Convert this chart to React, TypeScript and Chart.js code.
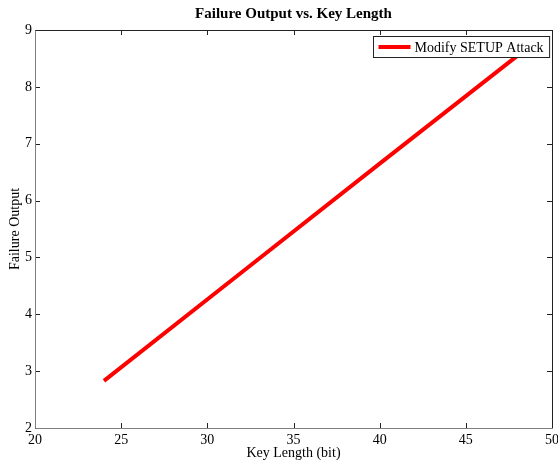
import React, { useEffect, useRef } from "react";
import { Chart, registerables } from "chart.js";

Chart.register(...registerables);

const keyLengths = [24, 32, 40, 48];
const failureOutput = [2.83, 4.74, 6.65, 8.55];
const seriesLabel = "Modify SETUP Attack";
const xTicks = [20, 25, 30, 35, 40, 45, 50];
const yTicks = [2, 3, 4, 5, 6, 7, 8, 9];
const titleText = "Failure Output vs. Key Length";
const xTitle = "Key Length (bit)";
const yTitle = "Failure Output";

const FONT = "'Liberation Serif', 'Times New Roman', serif";

const boxPlugin = {
  id: "matlabBox",
  afterDatasetsDraw(chart: any) {
    const { ctx, chartArea, scales } = chart;
    const { left, right, top, bottom } = chartArea;
    const xs = scales.x;
    const ys = scales.y;
    ctx.save();
    ctx.lineWidth = 1;
    ctx.strokeStyle = "#222";
    const tl = 5;
    ctx.beginPath();
    xTicks.forEach((v) => {
      const px = Math.round(xs.getPixelForValue(v)) + 0.5;
      ctx.moveTo(px, bottom);
      ctx.lineTo(px, bottom - tl);
      ctx.moveTo(px, top);
      ctx.lineTo(px, top + tl);
    });
    yTicks.forEach((v) => {
      const py = Math.round(ys.getPixelForValue(v)) + 0.5;
      ctx.moveTo(left, py);
      ctx.lineTo(left + tl, py);
      ctx.moveTo(right, py);
      ctx.lineTo(right - tl, py);
    });
    ctx.stroke();
    const L = Math.round(left) + 0.5;
    const R = Math.round(right) + 0.5;
    const T = Math.round(top) + 0.5;
    const B = Math.round(bottom) + 0.5;
    ctx.strokeStyle = "#222";
    ctx.beginPath();
    ctx.moveTo(L, T);
    ctx.lineTo(R, T);
    ctx.lineTo(R, B);
    ctx.stroke();
    ctx.strokeStyle = "#808080";
    ctx.beginPath();
    ctx.moveTo(L, T);
    ctx.lineTo(L, B);
    ctx.lineTo(R, B);
    ctx.stroke();

    // legend
    const ds = chart.data.datasets[0];
    ctx.font = `14px ${FONT}`;
    const tw = ctx.measureText(ds.label).width;
    const bw = 5 + 32 + 4 + tw + 6;
    const bh = 21;
    const bx = Math.round(right - 3 - bw) + 0.5;
    const by = Math.round(top + 6) + 0.5;
    ctx.fillStyle = "#fff";
    ctx.fillRect(bx, by, bw, bh);
    ctx.strokeStyle = "#222";
    ctx.lineWidth = 1;
    ctx.strokeRect(bx, by, bw, bh);
    ctx.strokeStyle = ds.borderColor;
    ctx.lineWidth = 4;
    ctx.beginPath();
    ctx.moveTo(bx + 5, by + bh / 2);
    ctx.lineTo(bx + 37, by + bh / 2);
    ctx.stroke();
    ctx.fillStyle = "#000";
    ctx.textBaseline = "middle";
    ctx.textAlign = "left";
    ctx.fillText(ds.label, bx + 41, by + bh / 2 + 1);
    ctx.restore();
  },
};

export default function App() {
  const ref = useRef<HTMLCanvasElement>(null);
  useEffect(() => {
    if (!ref.current) return;
    const chart = new Chart(ref.current, {
      type: "line",
      data: {
        labels: keyLengths,
        datasets: [
          {
            label: seriesLabel,
            data: keyLengths.map((k, i) => ({ x: k, y: failureOutput[i] })),
            borderColor: "#ff0000",
            borderWidth: 4,
            pointRadius: 0,
            tension: 0,
            fill: false,
          },
        ],
      },
      options: {
        animation: false,
        responsive: false,
        maintainAspectRatio: false,
        layout: { padding: { left: 0, right: 6, top: 0, bottom: 0 } },
        plugins: {
          legend: { display: false },
          tooltip: { enabled: false },
          title: {
            display: true,
            fullSize: false,
            text: titleText,
            color: "#000",
            font: { family: FONT, size: 15, weight: "bold", lineHeight: 1 },
            padding: { top: 7, bottom: 8 },
          },
        },
        scales: {
          x: {
            type: "linear",
            min: 20,
            max: 50,
            afterFit: (s: any) => {
              s.height = 35;
              s.paddingLeft = 0;
              s.paddingRight = 0;
            },
            afterBuildTicks: (s: any) => {
              s.ticks = xTicks.map((v) => ({ value: v }));
            },
            grid: { display: false, drawTicks: false },
            border: { display: false },
            ticks: {
              color: "#000",
              padding: 4,
              maxRotation: 0,
              autoSkip: false,
              font: { family: FONT, size: 14 },
            },
            title: {
              display: true,
              text: xTitle,
              color: "#000",
              font: { family: FONT, size: 14, lineHeight: 1 },
              padding: { top: 0, bottom: 3 },
            },
          },
          y: {
            type: "linear",
            min: 2,
            max: 9,
            afterFit: (s: any) => {
              s.width = 35;
              s.paddingTop = 0;
              s.paddingBottom = 0;
            },
            afterBuildTicks: (s: any) => {
              s.ticks = yTicks.map((v) => ({ value: v }));
            },
            grid: { display: false, drawTicks: false },
            border: { display: false },
            ticks: {
              color: "#000",
              padding: 3,
              autoSkip: false,
              font: { family: FONT, size: 14 },
            },
            title: {
              display: true,
              text: yTitle,
              color: "#000",
              font: { family: FONT, size: 14, lineHeight: 1 },
              padding: { top: 8, bottom: 0 },
            },
          },
        },
      },
      plugins: [boxPlugin],
    });
    return () => chart.destroy();
  }, []);
  return (
    <div style={{ position: "fixed", left: 0, top: 0, width: 558, height: 463, background: "#fff" }}>
      <canvas ref={ref} width={558} height={463} style={{ display: "block", width: 558, height: 463 }} />
    </div>
  );
}
